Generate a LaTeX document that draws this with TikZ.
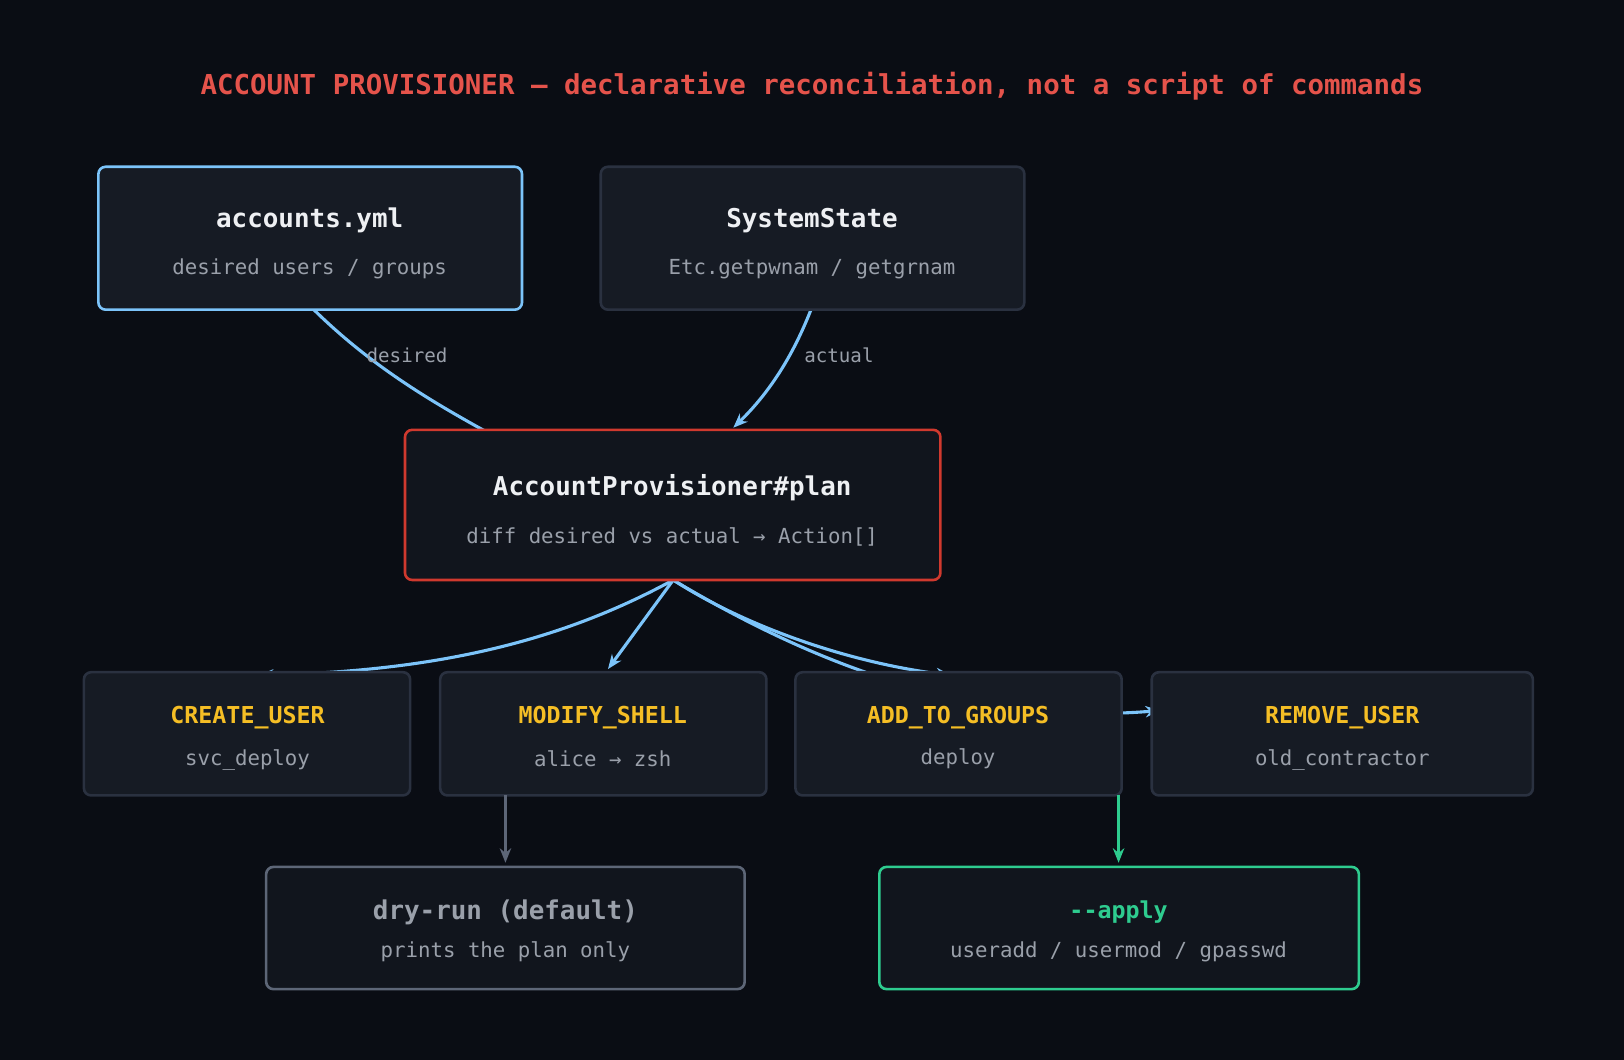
\documentclass[tikz,border=0pt]{standalone}
\usepackage{fontspec}
\setmonofont{DejaVu Sans Mono}
\usetikzlibrary{arrows.meta}
\definecolor{bg}{HTML}{0A0D14}
\definecolor{boxf}{HTML}{161B24}
\definecolor{boxf2}{HTML}{11151D}
\definecolor{bdr}{HTML}{2A3140}
\definecolor{blu}{HTML}{7CC4FA}
\definecolor{rd}{HTML}{D0392E}
\definecolor{titler}{HTML}{E5534B}
\definecolor{gr}{HTML}{5D6677}
\definecolor{grn}{HTML}{2ECC8F}
\definecolor{yel}{HTML}{F5BE25}
\definecolor{sub}{HTML}{9AA0AA}
\definecolor{wt}{HTML}{EEF0F3}
\begin{document}
\begin{tikzpicture}[x=1pt,y=-1pt,font=\ttfamily,
  box/.style={draw=bdr,fill=boxf,line width=2.5pt,rounded corners=7pt},
  edge/.style={draw=blu,line width=3pt,-{Stealth[length=14pt,width=11pt]}},
  t1/.style={font=\ttfamily\bfseries\fontsize{25}{25}\selectfont,text=wt},
  t2/.style={font=\ttfamily\fontsize{20}{20}\selectfont,text=sub},
  ta/.style={font=\ttfamily\bfseries\fontsize{22.5}{22.5}\selectfont,text=yel}]
\useasboundingbox[fill=bg] (0,0) rectangle (1568,1023);
\node[font=\ttfamily\bfseries\fontsize{26.5}{26.5}\selectfont,text=titler] (title) at (784,83) {ACCOUNT PROVISIONER — declarative reconciliation, not a script of commands};
% edges (behind nodes)
\coordinate (accB) at (303,299);
\coordinate (ssB) at (783,299);
\coordinate (plB) at (650,560);
\draw[edge] (accB) .. controls (360,355) and (420,390) .. (490,428) coordinate (dend);
\node[t2,font=\ttfamily\fontsize{18.5}{18.5}\selectfont] (ldes) at (393,343) {desired};
\draw[edge] (ssB) .. controls (765,345) and (742,380) .. (708,413) coordinate (aend);
\node[t2,font=\ttfamily\fontsize{18.5}{18.5}\selectfont] (lact) at (810,343) {actual};
\draw[edge] (plB) .. controls (540,620) and (420,648) .. (250,652) coordinate (c1);
\draw[edge] (plB) -- (587,646) coordinate (c2);
\draw[edge] (plB) .. controls (720,605) and (820,640) .. (918,652) coordinate (c3);
\draw[edge] (plB) .. controls (800,650) and (950,700) .. (1120,686) coordinate (c4);
% nodes
\draw[box,draw=blu] (95,161) rectangle (504,299);
\node[t1] (acc) at (299,213) {accounts.yml};
\node[t2] (accs) at (299,260) {desired users / groups};
\draw[box] (580,161) rectangle (989,299);
\node[t1] (ss) at (784,213) {SystemState};
\node[t2] (sss) at (784,260) {Etc.getpwnam / getgrnam};
\draw[box,draw=rd,fill=boxf2] (391,415) rectangle (908,560);
\node[t1] (pl) at (649,471) {AccountProvisioner\#plan};
\node[t2] (pls) at (649,518) {diff desired vs actual → Action[]};
\draw[box] (81,649) rectangle (396,768);
\node[ta] (cu) at (239,693) {CREATE\_USER};
\node[t2] (cus) at (239,734) {svc\_deploy};
\draw[box] (425,649) rectangle (740,768);
\node[ta] (ms) at (582,693) {MODIFY\_SHELL};
\node[t2] (mss) at (582,733) {alice → zsh};
\draw[box] (768,649) rectangle (1083,768);
\node[ta] (ag) at (925,693) {ADD\_TO\_GROUPS};
\node[t2] (ags) at (925,733) {deploy};
\draw[box] (1112,649) rectangle (1480,768);
\node[ta] (ru) at (1296,693) {REMOVE\_USER};
\node[t2] (rus) at (1296,734) {old\_contractor};
\draw[box,draw=gr,fill=boxf2] (257,837) rectangle (719,955);
\node[t1,text=sub] (dr) at (488,881) {dry-run (default)};
\node[t2] (drs) at (488,919) {prints the plan only};
\draw[box,draw=grn,fill=boxf2] (849,837) rectangle (1312,955);
\node[t1,text=grn,font=\ttfamily\bfseries\fontsize{22.5}{22.5}\selectfont] (ap) at (1080,881) {-{}-apply};
\node[t2] (aps) at (1080,919) {useradd / usermod / gpasswd};
% lower edges
\coordinate (msB) at (488,768);
\coordinate (agB) at (1080,768);
\draw[edge,draw=gr] (msB) -- (488,833) coordinate (drT);
\draw[edge,draw=grn] (agB) -- (1080,833) coordinate (apT);
\end{tikzpicture}
\end{document}
